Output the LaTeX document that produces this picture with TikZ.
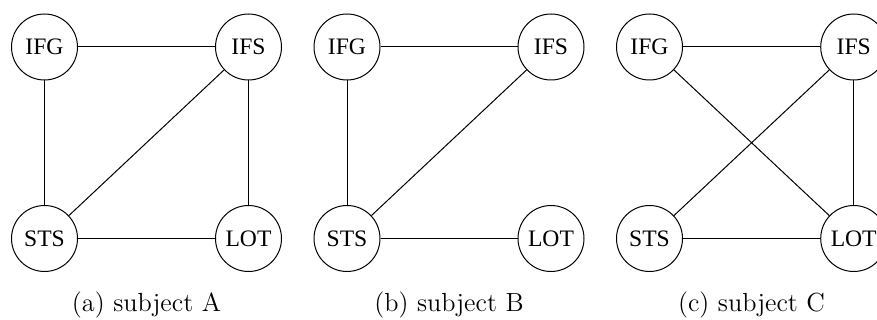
\documentclass[tikz,border=0pt]{standalone}
\usepackage{fontspec}
\newfontfamily\nodefont{Liberation Serif}
\begin{document}
\begin{tikzpicture}[x=0.5pt,y=-0.5pt,
  vtx/.style={draw,circle,minimum size=33pt,inner sep=0pt,line width=0.5pt,
    font=\fontsize{11.8}{14}\nodefont},
  edge/.style={line width=0.5pt},
  captext/.style={anchor=base,font=\fontsize{13.1}{16}\selectfont}]
\clip (0,0) rectangle (877,320);
\useasboundingbox (0,0) rectangle (877,320);
% (a)
\node[vtx] (aIFG) at (44.5,47) {IFG};
\node[vtx] (aIFS) at (248.5,47) {IFS};
\node[vtx] (aSTS) at (44.5,238.5) {STS};
\node[vtx] (aLOT) at (248.5,238.5) {LOT};
\draw[edge] (aIFG) -- (aIFS);
\draw[edge] (aIFG) -- (aSTS);
\draw[edge] (aIFS) -- (aSTS);
\draw[edge] (aIFS) -- (aLOT);
\draw[edge] (aSTS) -- (aLOT);
\node[captext] (acap) at (146.5,311.5) {(a) subject A};
% (b)
\node[vtx] (bIFG) at (347,47) {IFG};
\node[vtx] (bIFS) at (551,47) {IFS};
\node[vtx] (bSTS) at (347,238.5) {STS};
\node[vtx] (bLOT) at (551,238.5) {LOT};
\draw[edge] (bIFG) -- (bIFS);
\draw[edge] (bIFG) -- (bSTS);
\draw[edge] (bIFS) -- (bSTS);
\draw[edge] (bSTS) -- (bLOT);
\node[captext] (bcap) at (449,311.5) {(b) subject B};
% (c)
\node[vtx] (cIFG) at (649.5,47) {IFG};
\node[vtx] (cIFS) at (853.7,47) {IFS};
\node[vtx] (cSTS) at (649.5,238.5) {STS};
\node[vtx] (cLOT) at (853.7,238.5) {LOT};
\draw[edge] (cIFG) -- (cIFS);
\draw[edge] (cIFG) -- (cLOT);
\draw[edge] (cIFS) -- (cSTS);
\draw[edge] (cIFS) -- (cLOT);
\draw[edge] (cSTS) -- (cLOT);
\node[captext] (ccap) at (751.5,311.5) {(c) subject C};
\end{tikzpicture}
\end{document}
